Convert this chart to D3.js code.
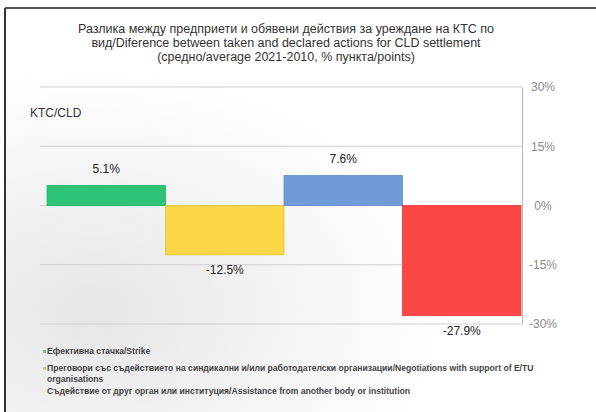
<!DOCTYPE html>
<html>
<head>
<meta charset="utf-8">
<script src="https://cdn.jsdelivr.net/npm/d3@7"></script>
<style>
  body { margin: 0; background: #fff; }
  svg { display: block; font-family: "Liberation Sans", Arial, sans-serif; }
</style>
</head>
<body>
<div id="chart"></div>
<script>
var width = 596,
    height = 412;

// data
var categories = ["strike", "negotiations", "assistance", "other"];
var values = [5.1, -12.5, 7.6, -27.9];
var colors = ["#2ec478", "#fbd746", "#6f9bd9", "#fc4545"];
var tickValues = [30, 15, 0, -15, -30];
var titleLines = [
  "Разлика между предприети и обявени действия за уреждане  на КТС по",
  "вид/Diference between taken and declared actions for CLD settlement",
  "(средно/average 2021-2010, % пункта/points)"
];
var legendLines = [
  "Ефективна стачка/Strike",
  "Преговори със съдействието на синдикални и/или работодателски организации/Negotiations with support of E/TU",
  "organisations",
  "Съдействие от друг орган или институция/Assistance from  another body or institution"
];

var x = d3.scaleBand()
  .domain(categories)
  .range([47, 521])
  .padding(0);

var y = d3.scaleLinear()
  .domain([-30, 30])
  .range([324, 87]);

var svg = d3.select("#chart").append("svg")
  .attr("width", width)
  .attr("height", height);

// faint background shading
var defs = svg.append("defs");
var grad = defs.append("radialGradient")
  .attr("id", "shade")
  .attr("cx", "0.15").attr("cy", "0.75").attr("r", "0.6");
grad.append("stop").attr("offset", "0%").attr("stop-color", "#e6e6e6");
grad.append("stop").attr("offset", "100%").attr("stop-color", "#ffffff");

svg.append("rect")
  .attr("x", 5).attr("y", 8)
  .attr("width", width - 5).attr("height", height - 8)
  .attr("fill", "url(#shade)");

// frame
svg.append("line")
  .attr("x1", 5).attr("x2", width).attr("y1", 8).attr("y2", 8)
  .attr("stroke", "#555").attr("stroke-width", 2);
svg.append("line")
  .attr("x1", 5).attr("x2", 5).attr("y1", 8).attr("y2", height)
  .attr("stroke", "#333").attr("stroke-width", 2);

// title
svg.append("g").selectAll("text")
  .data(titleLines).enter()
  .append("text")
  .attr("x", 286)
  .attr("y", function(d, i) { return 33 + i * 14; })
  .attr("text-anchor", "middle")
  .attr("font-size", 12.5)
  .attr("fill", "#333")
  .text(function(d) { return d; });

// gridlines
svg.append("g").selectAll("line")
  .data(tickValues).enter()
  .append("line")
  .attr("x1", 40).attr("x2", 522)
  .attr("y1", function(d) { return y(d); })
  .attr("y2", function(d) { return y(d); })
  .attr("stroke", "#cfcfcf")
  .attr("stroke-width", 1);

// right axis
var axis = svg.append("g")
  .attr("transform", "translate(522,0)")
  .call(d3.axisRight(y)
    .tickValues(tickValues)
    .tickSize(0)
    .tickPadding(21)
    .tickFormat(function(d) { return d + "%"; }));
axis.select(".domain").attr("stroke", "#bbb");
axis.selectAll("text")
  .attr("text-anchor", "middle")
  .attr("font-family", "Liberation Sans, Arial, sans-serif")
  .attr("font-size", 12)
  .attr("fill", "#8a8a8a");

svg.append("text")
  .attr("x", 30).attr("y", 117)
  .attr("font-size", 12)
  .attr("fill", "#333")
  .text("KTC/CLD");

// bars
svg.append("g").selectAll("rect")
  .data(values).enter()
  .append("rect")
  .attr("x", function(d, i) { return x(categories[i]); })
  .attr("width", x.bandwidth())
  .attr("y", function(d) { return d >= 0 ? y(d) : y(0); })
  .attr("height", function(d) { return Math.abs(y(d) - y(0)); })
  .attr("fill", function(d, i) { return colors[i]; })
  .attr("stroke", function(d, i) { return d3.color(colors[i]).darker(0.3); })
  .attr("stroke-width", 0.8);

// value labels
svg.append("g").selectAll("text")
  .data(values).enter()
  .append("text")
  .attr("x", function(d, i) { return x(categories[i]) + x.bandwidth() / 2; })
  .attr("y", function(d) { return d >= 0 ? y(d) - 12 : y(d) + 19; })
  .attr("text-anchor", "middle")
  .attr("font-size", 12)
  .attr("fill", "#222")
  .text(function(d) { return d.toFixed(1) + "%"; });

// legend
var legendY = [354, 371, 382, 394];
var legend = svg.append("g");
legend.selectAll("text")
  .data(legendLines).enter()
  .append("text")
  .attr("x", 47)
  .attr("y", function(d, i) { return legendY[i]; })
  .attr("font-size", 8.6)
  .attr("font-weight", "bold")
  .attr("fill", "#444")
  .text(function(d) { return d; });
legend.selectAll("rect")
  .data([0, 1]).enter()
  .append("rect")
  .attr("x", 43)
  .attr("y", function(d) { return legendY[d] - 4; })
  .attr("width", 3).attr("height", 3)
  .attr("fill", function(d) { return d3.interpolateRgb(colors[d], "#bbb")(0.6); });
</script>
</body>
</html>
